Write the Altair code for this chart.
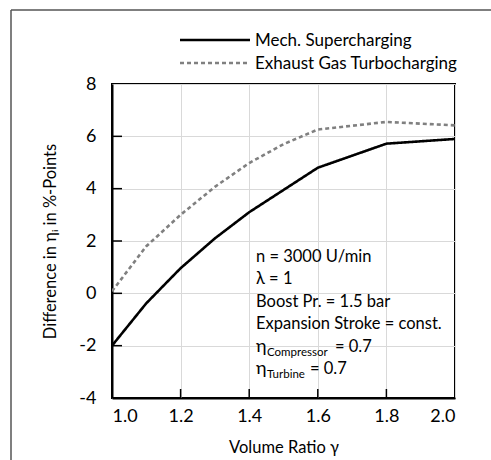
import altair as alt
import pandas as pd

# Volume ratio (x) and efficiency difference in %-points (y)
ratio = [1.0, 1.1, 1.2, 1.3, 1.4, 1.5, 1.6, 1.8, 2.0]
mech = [-2.0, -0.38, 0.96, 2.1, 3.1, 3.95, 4.8, 5.72, 5.9]
turbo = [0.08, 1.8, 3.0, 4.07, 4.98, 5.7, 6.26, 6.55, 6.42]
series_names = ["Mech. Supercharging", "Exhaust Gas Turbocharging"]

x_ticks = [1.0, 1.2, 1.4, 1.6, 1.8, 2.0]
y_ticks = [-4, -2, 0, 2, 4, 6, 8]

notes = ["n = 3000 U/min", "λ = 1", "Boost Pr. = 1.5 bar", "Expansion Stroke = const."]
eta_notes = [("Compressor", "= 0.7", 223), ("Turbine", "= 0.7", 198)]

FONT = "Lato"
W, H = 343, 314

df = pd.DataFrame({
    "ratio": ratio * 2,
    "diff": mech + turbo,
    "series": [series_names[0]] * len(ratio) + [series_names[1]] * len(ratio),
})

xs = alt.Scale(domain=[1.0, 2.0], nice=False)
ys = alt.Scale(domain=[-4, 8], nice=False)

lines = alt.Chart(df).mark_line(strokeWidth=2.6, clip=True).encode(
    x=alt.X("ratio:Q", scale=xs, title="Volume Ratio γ",
            axis=alt.Axis(values=x_ticks, format=".1f", grid=True, ticks=False,
                          labelPadding=9, titlePadding=14)),
    y=alt.Y("diff:Q", scale=ys, title="Difference in ηᵢ in %-Points",
            axis=alt.Axis(values=y_ticks, grid=True, ticks=False,
                          labelExpr="replace(datum.label, '−', '-')",
                          labelPadding=16, titlePadding=20)),
    color=alt.Color("series:N", scale=alt.Scale(domain=series_names, range=["#000000", "#808080"]),
                    legend=None),
    strokeDash=alt.StrokeDash("series:N", scale=alt.Scale(domain=series_names, range=[[1, 0], [4, 3]]),
                              legend=None),
)

# inward tick marks on the bottom and left axes
xt = alt.Chart(pd.DataFrame({"t": x_ticks[1:-1]})).mark_rule(color="black", strokeWidth=1.5).encode(
    x=alt.X("t:Q", scale=xs), y=alt.value(H), y2=alt.value(H - 9))
yt = alt.Chart(pd.DataFrame({"t": y_ticks[1:-1]})).mark_rule(color="black", strokeWidth=1.5).encode(
    y=alt.Y("t:Q", scale=ys), x=alt.value(0), x2=alt.value(10))

one = alt.Data(values=[{}])

# legend drawn above the plot
leg_y = [-44, -21]
legend_layers = []
for name, col, dash, ly in zip(series_names, ["#000000", "#808080"], [[1, 0], [4, 3]], leg_y):
    legend_layers.append(alt.Chart(one).mark_rule(color=col, strokeWidth=2.6, strokeDash=dash).encode(
        x=alt.value(68), x2=alt.value(138), y=alt.value(ly)))
    legend_layers.append(alt.Chart(one).mark_text(text=name, align="left", baseline="middle",
                                                  font=FONT, fontSize=17, color="black").encode(
        x=alt.value(143), y=alt.value(ly + 1)))

# operating-condition notes inside the plot
note_layers = []
for i, t in enumerate(notes):
    note_layers.append(alt.Chart(one).mark_text(text=t, align="left", baseline="middle",
                                                font=FONT, fontSize=16.5, color="black").encode(
        x=alt.value(144), y=alt.value(173 + 22.4 * i)))
for j, (sub, rest, rx) in enumerate(eta_notes):
    yy = 173 + 22.4 * (4 + j)
    note_layers.append(alt.Chart(one).mark_text(text="η", align="left", baseline="middle",
                                                font=FONT, fontSize=18, color="black").encode(
        x=alt.value(144), y=alt.value(yy)))
    note_layers.append(alt.Chart(one).mark_text(text=sub, align="left", baseline="middle",
                                                font=FONT, fontSize=11.5, color="black").encode(
        x=alt.value(155), y=alt.value(yy + 6)))
    note_layers.append(alt.Chart(one).mark_text(text=rest, align="left", baseline="middle",
                                                font=FONT, fontSize=16.5, color="black").encode(
        x=alt.value(rx), y=alt.value(yy)))

# outer frame lines
frame = [
    alt.Chart(one).mark_rule(color="#555555", strokeWidth=1.5).encode(
        x=alt.value(-101), y=alt.value(-74), y2=alt.value(H + 120)),
    alt.Chart(one).mark_rule(color="#555555", strokeWidth=1.5).encode(
        x=alt.value(-101), x2=alt.value(W + 120), y=alt.value(-74)),
]

chart = alt.layer(lines, xt, yt, *legend_layers, *note_layers, *frame).properties(
    width=W, height=H,
    autosize=alt.AutoSizeParams(type="none"),
    padding={"left": 112, "top": 84, "right": 36, "bottom": 62},
).configure_view(
    stroke="black", strokeWidth=2
).configure_axis(
    domainColor="black", domainWidth=2, gridColor="#d9d9d9", gridWidth=1,
    labelFont=FONT, labelFontSize=18, labelColor="black",
    titleFont=FONT, titleFontSize=16.5, titleColor="black", titleFontWeight="normal",
)

chart.save("out.html", embed_options={"renderer": "svg", "actions": False})
